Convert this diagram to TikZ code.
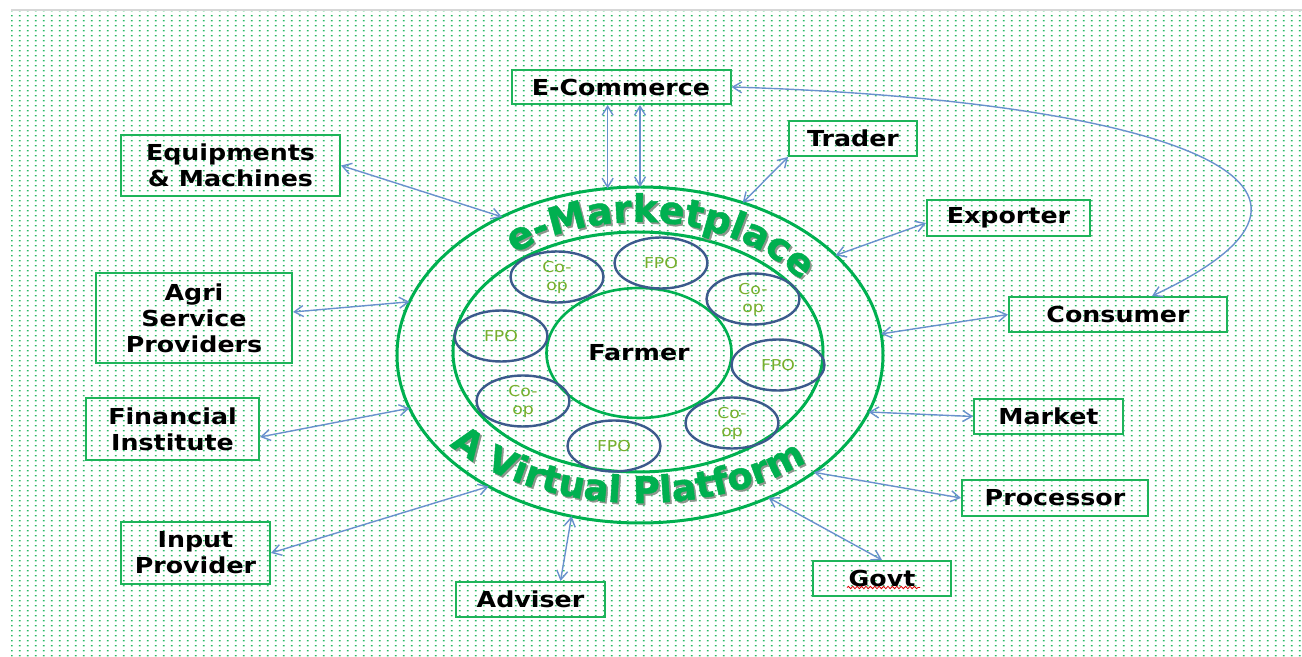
\documentclass[tikz,border=0pt]{standalone}
\usepackage{fontspec}
\setmainfont{DejaVu Sans}
\newfontfamily\boxfont{DejaVu Sans}[FakeStretch=1.15]
\newfontfamily\arcfont{DejaVu Sans}[BoldFeatures={FakeBold=1.2}]
\usetikzlibrary{shapes.geometric,arrows.meta,patterns,decorations.text,decorations.pathmorphing}
\definecolor{dotgreen}{RGB}{40,185,100}
\definecolor{boxgreen}{RGB}{30,180,90}
\definecolor{ringgreen}{RGB}{0,176,80}
\definecolor{ellblue}{RGB}{60,90,140}
\definecolor{arrblue}{RGB}{105,145,205}
\definecolor{smallgreen}{RGB}{120,175,45}
\definecolor{topgray}{RGB}{215,215,215}
\definecolor{shadowgray}{RGB}{140,150,140}
\pgfdeclarepatternformonly{bgdots}{\pgfqpoint{0pt}{0pt}}{\pgfqpoint{4.135pt}{2.6pt}}{\pgfqpoint{4.135pt}{2.6pt}}{\pgfpathrectangle{\pgfqpoint{1.6pt}{0.9pt}}{\pgfqpoint{0.95pt}{0.8pt}}\pgfusepath{fill}}
\newcommand\mkbigfont{\arcfont\fontsize{19}{21}\selectfont\bfseries}
\newcommand\mkbotfont{\arcfont\fontsize{18.5}{20}\selectfont\bfseries}
\begin{document}
\begin{tikzpicture}[x=0.5pt,y=0.5pt,
  box/.style={draw=boxgreen, line width=1pt, rectangle, inner sep=0pt, align=center,
    font=\boxfont\bfseries\fontsize{11}{13}\selectfont, text=black},
  ring/.style={ellipse, draw=ringgreen, line width=1.5pt, inner sep=0pt, outer sep=0pt},
  org/.style={ellipse, draw=ellblue, line width=1.2pt, inner sep=0pt, minimum width=46.5pt,
    minimum height=25.5pt, align=center, font=\boxfont\fontsize{7.5}{9}\selectfont, text=smallgreen},
  arr/.style={draw=arrblue, line width=0.7pt, {Straight Barb[length=4.5pt,width=5.5pt]}-{Straight Barb[length=4.5pt,width=5.5pt]}}]
\useasboundingbox (0,0) rectangle (1302,-657);
\fill[white] (0,0) rectangle (1302,-657);
\fill[pattern=bgdots, pattern color=dotgreen] (11,-11) rectangle (1302,-657);
\draw[topgray, line width=1pt] (11,-10) -- (1302,-10);

% rings
\node[ring, minimum width=243pt, minimum height=168pt] (outer) at (640,-355) {};
\node[ring, minimum width=185pt, minimum height=120pt] (middle) at (638,-352) {};
\node[ring, line width=1.3pt, minimum width=92.5pt, minimum height=65pt,
  font=\boxfont\bfseries\fontsize{11}{13}\selectfont] (farmer) at (639,-353) {Farmer};

% organisations
\node[org] (c1) at (557,-277) {Co-\\op};
\node[org] (f1) at (661,-263) {FPO};
\node[org] (c2) at (753,-299) {Co-\\op};
\node[org] (f2) at (501,-336) {FPO};
\node[org] (f3) at (778,-365) {FPO};
\node[org] (c3) at (523,-401) {Co-\\op};
\node[org] (c4) at (732,-423) {Co-\\op};
\node[org] (f4) at (614,-446) {FPO};

% curved texts
\begin{scope}[xshift=0.9pt,yshift=-0.9pt]
\path[decorate, decoration={text along path, text={|\mkbigfont|e-Marketplace}, text align=center, text color=shadowgray}]
  (640,-355) ++(142:97pt and 66.5pt) arc[start angle=142, end angle=21, x radius=97pt, y radius=66.5pt];
\path[decorate, decoration={text along path, text={|\mkbotfont|A Virtual Platform}, text align=center, text color=shadowgray}]
  (640,-355) ++(198:120pt and 74pt) arc[start angle=198, end angle=332, x radius=120pt, y radius=74pt];
\end{scope}
\path[decorate, decoration={text along path, text={|\mkbigfont|e-Marketplace}, text align=center, text color=ringgreen}]
  (640,-355) ++(142:97pt and 66.5pt) arc[start angle=142, end angle=21, x radius=97pt, y radius=66.5pt];
\path[decorate, decoration={text along path, text={|\mkbotfont|A Virtual Platform}, text align=center, text color=ringgreen}]
  (640,-355) ++(198:120pt and 74pt) arc[start angle=198, end angle=332, x radius=120pt, y radius=74pt];

% boxes
\node[box, minimum width=109.5pt, minimum height=17pt] (ecom) at (621,-87) {E-Commerce};
\node[box, minimum width=64pt, minimum height=17.5pt] (trader) at (853,-138.5) {Trader};
\node[box, minimum width=109.5pt, minimum height=30.5pt] (equip) at (230.5,-165.5) {Equipments\\\& Machines};
\node[box, minimum width=81.5pt, minimum height=18pt] (exporter) at (1008.5,-218) {Exporter};
\node[box, minimum width=109pt, minimum height=17.5pt] (consumer) at (1118,-314.5) {Consumer};
\node[box, minimum width=98pt, minimum height=45pt] (agri) at (194,-318) {Agri\\Service\\Providers};
\node[box, minimum width=86.5pt, minimum height=31pt] (fin) at (172.5,-429) {Financial\\Institute};
\node[box, minimum width=74.5pt, minimum height=17.5pt] (market) at (1048.5,-416.5) {Market};
\node[box, minimum width=93pt, minimum height=18pt] (proc) at (1055,-498) {Processor};
\node[box, minimum width=74.5pt, minimum height=31pt] (input) at (195.5,-553) {Input\\Provider};
\node[box, minimum width=74.5pt, minimum height=17.5pt] (adviser) at (530.5,-599.5) {Adviser};
\node[box, minimum width=69pt, minimum height=17.5pt] (govt) at (882,-578.5) {Govt};
\draw[red!85!black, line width=0.4pt, decorate, decoration={snake, amplitude=0.6pt, segment length=2.2pt}]
  ([xshift=-17.5pt,yshift=-4.5pt]govt.center) -- ([xshift=19pt,yshift=-4.5pt]govt.center);

% connectors
\draw[arr] (ecom.south -| outer.101) -- (outer.101);
\draw[arr] (ecom.south -| outer.90) -- (outer.90);
\draw[arr] (ecom.east) .. controls (1150,-100) and (1400,-180) .. ([xshift=17pt]consumer.north);
\draw[arr] (trader.south west) -- (outer.56);
\draw[arr] (equip.east) -- (outer.135);
\draw[arr] ([yshift=-2.5pt]exporter.west) -- (outer.27);
\draw[arr] (consumer.west) -- (outer.5);
\draw[arr] ([yshift=3pt]agri.east) -- (outer.167);
\draw[arr] ([yshift=-4pt]fin.east) -- (outer.193);
\draw[arr] (input.east) -- (outer.221);
\draw[arr] ([xshift=15pt]adviser.north) -- (outer.247);
\draw[arr] (govt.north) -- (outer.312);
\draw[arr] (proc.west) -- (outer.326);
\draw[arr] (market.west) -- (outer.346);
\end{tikzpicture}
\end{document}
